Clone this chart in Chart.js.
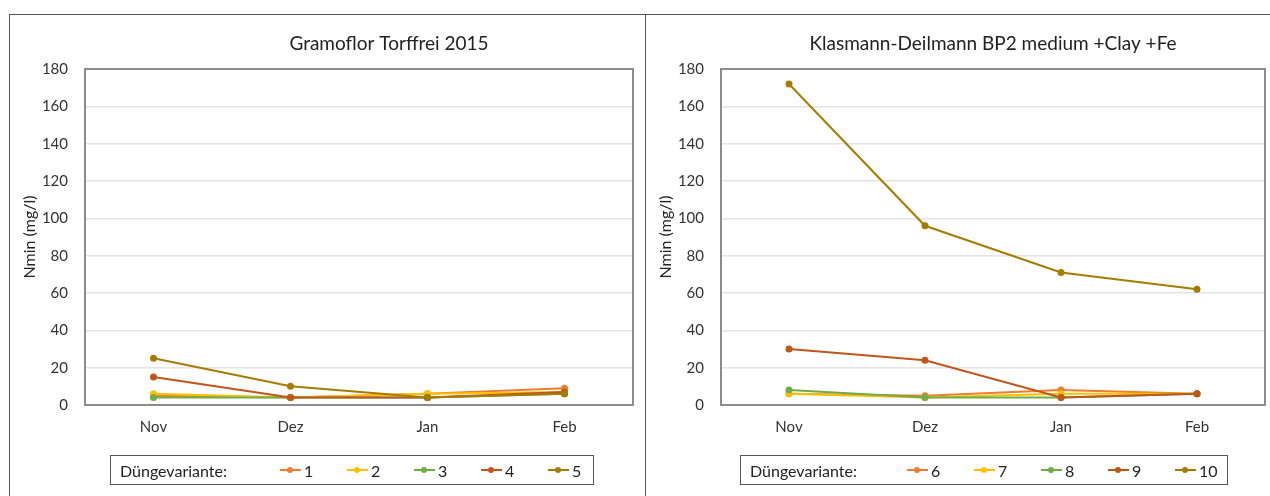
<!DOCTYPE html>
<html>
<head>
<meta charset="utf-8">
<script src="https://cdn.jsdelivr.net/npm/chart.js@4.4.1/dist/chart.umd.min.js"></script>
<style>
  body { margin: 0; width: 1270px; height: 496px; overflow: hidden; background: #fff; font-family: Lato, sans-serif; }
  .panel { position: absolute; top: 14px; height: 490px; border-top: 1px solid #555; border-left: 1px solid #555; }
  #p1 { left: 9px; width: 636px; }
  #p2 { left: 645px; width: 630px; }
  .panel canvas { position: absolute; left: 0; top: 0; }
  .legend { position: absolute; top: 440px; height: 30px; border: 1px solid #555; display: flex; align-items: center; font-size: 16px; color: #222; box-sizing: border-box; padding-left: 9px; }
  .legend .lab { flex: none; }
  .legend .it { display: flex; align-items: center; width: 67px; flex: none; }
  .legend .it:last-child { width: auto; }
  .mk { display: inline-block; width: 21px; height: 2px; position: relative; margin-right: 3px; }
  .mk::after { content: ""; position: absolute; left: 7px; top: -2px; width: 6px; height: 6px; border-radius: 50%; background: inherit; }
</style>
</head>
<body>
<div class="panel" id="p1">
  <canvas id="chart1" width="634" height="481"></canvas>
  <div class="legend" id="leg1" style="left:100px;width:484px;"></div>
</div>
<div class="panel" id="p2">
  <canvas id="chart2" width="624" height="481"></canvas>
  <div class="legend" id="leg2" style="left:94px;width:488px;"></div>
</div>
<script>
// Monate
const months = ["Nov", "Dez", "Jan", "Feb"];

// Gramoflor Torffrei 2015 (Variante 1-5)
const v1 = [5, 4, 6, 9];
const v2 = [6, 4, 6, 7];
const v3 = [4, 4, 4, 6];
const v4 = [15, 4, 4, 7];
const v5 = [25, 10, 4, 6];

// Klasmann-Deilmann BP2 medium +Clay +Fe (Variante 6-10)
const v6 = [6, 5, 8, 6];
const v7 = [6, 4, 6, 6];
const v8 = [8, 4, 4, 6];
const v9 = [30, 24, 4, 6];
const v10 = [172, 96, 71, 62];

const yTicks = [0, 20, 40, 60, 80, 100, 120, 140, 160, 180];

const colors = ["#ED7D31", "#FFC000", "#70AD47", "#C0561A", "#A67C00"];

// Rahmen um die Zeichenfläche
const plotFrame = {
  id: "plotFrame",
  beforeDatasetsDraw(chart) {
    const { ctx, chartArea: a } = chart;
    ctx.save();
    ctx.strokeStyle = "#8c8c8c";
    ctx.lineWidth = 2;
    ctx.strokeRect(a.left, a.top, a.right - a.left, a.bottom - a.top);
    ctx.restore();
  },
};

// Titel über der Zeichenfläche (wie in Excel)
const plotTitle = {
  id: "plotTitle",
  afterDraw(chart, args, opts) {
    const { ctx, chartArea: a } = chart;
    ctx.save();
    ctx.fillStyle = "#222";
    ctx.font = "19px Lato";
    ctx.textAlign = "center";
    ctx.textBaseline = "middle";
    ctx.fillText(opts.text, (a.left + a.right) / 2 + (opts.shift || 0), 29);
    ctx.restore();
  },
};

function makeChart(canvasId, legendId, title, names, series, padRight, titleShift, labWidth) {
  const datasets = series.map((data, i) => ({
    label: names[i],
    data: data,
    borderColor: colors[i],
    backgroundColor: colors[i],
    borderWidth: 2,
    pointRadius: 2.5,
    pointHoverRadius: 3,
    tension: 0,
    order: series.length - i,
  }));

  const ctx = document.getElementById(canvasId).getContext("2d");
  const chart = new Chart(ctx, {
    type: "line",
    data: { labels: months, datasets: datasets },
    plugins: [plotFrame, plotTitle],
    options: {
      responsive: false,
      animation: false,
      layout: { padding: { left: 0, right: padRight, top: 54, bottom: 50 } },
      plugins: {
        legend: { display: false },
        tooltip: { enabled: false },
        plotTitle: { text: title, shift: titleShift },
      },
      scales: {
        x: {
          offset: true,
          grid: { display: false, drawTicks: false },
          border: { display: false },
          ticks: { color: "#333", font: { family: "Lato", size: 15 }, padding: 13 },
          afterFit: (scale) => { scale.height = 41; },
        },
        y: {
          min: 0,
          max: 180,
          afterBuildTicks: (scale) => { scale.ticks = yTicks.map((v) => ({ value: v })); },
          grid: { color: "#e4e4e4", lineWidth: 1.5, drawTicks: false },
          border: { display: false },
          ticks: { color: "#333", font: { family: "Lato", size: 15 }, padding: 17 },
          title: {
            display: true,
            text: "Nmin (mg/l)",
            color: "#222",
            font: { family: "Lato", size: 16 },
            padding: { top: 10, bottom: 0 },
          },
          afterFit: (scale) => { scale.width = 75; },
        },
      },
    },
  });

  // Legende als HTML
  const leg = document.getElementById(legendId);
  const lab = document.createElement("span");
  lab.className = "lab";
  lab.style.width = labWidth + "px";
  lab.textContent = "Düngevariante:";
  leg.appendChild(lab);
  chart.data.datasets.forEach((ds) => {
    const it = document.createElement("span");
    it.className = "it";
    const mk = document.createElement("span");
    mk.className = "mk";
    mk.style.background = ds.borderColor;
    it.appendChild(mk);
    it.appendChild(document.createTextNode(ds.label));
    leg.appendChild(it);
  });
  return chart;
}

makeChart("chart1", "leg1", "Gramoflor Torffrei 2015",
  ["1", "2", "3", "4", "5"], [v1, v2, v3, v4, v5], 11, 30, 160);
makeChart("chart2", "leg2", "Klasmann-Deilmann BP2 medium +Clay +Fe",
  ["6", "7", "8", "9", "10"], [v6, v7, v8, v9, v10], 2, 0, 157);
</script>
</body>
</html>
